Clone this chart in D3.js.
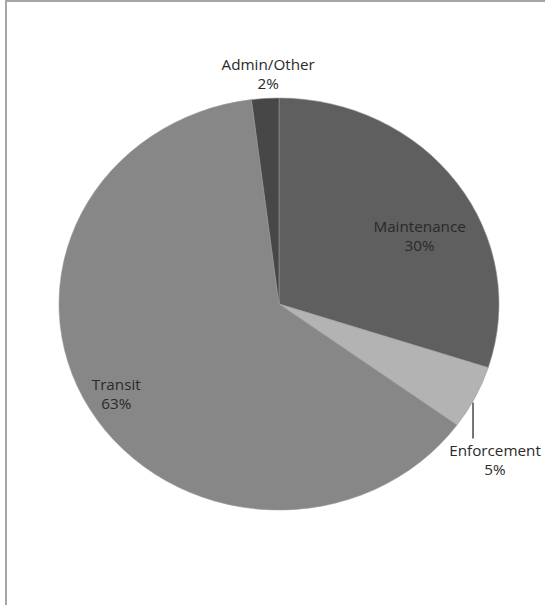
<!DOCTYPE html>
<html>
<head>
<meta charset="utf-8">
<script src="https://cdn.jsdelivr.net/npm/d3@7"></script>
<style>
  html, body { margin: 0; padding: 0; background: #fff; }
  svg { display: block; }
  text { font-family: "Open Sans", "DejaVu Sans", sans-serif; fill: #2a2a2a; }
</style>
</head>
<body>
<svg id="chart" width="545" height="605"></svg>
<script>
// Budget share by category (percent)
const categories = ["Maintenance", "Enforcement", "Transit", "Admin/Other"];
const shares = [30, 5, 63, 2];
const fills = ["#5f5f5f", "#b3b3b3", "#878787", "#474747"];

const W = 545, H = 605;
const cx = 279, cy = 304;
const rx = 220, ry = 206;

const svg = d3.select("#chart");

// frame edges
svg.append("line").attr("x1", 6).attr("x2", 6).attr("y1", 0).attr("y2", H)
  .attr("stroke", "#a6a6a6").attr("stroke-width", 2);
svg.append("line").attr("x1", 5).attr("x2", W).attr("y1", 1).attr("y2", 1)
  .attr("stroke", "#a6a6a6").attr("stroke-width", 2);

const pie = d3.pie().sort(null).value(d => d)(shares);
const arc = d3.arc().innerRadius(0).outerRadius(rx);

// pie is drawn as a circle and squeezed vertically
const g = svg.append("g")
  .attr("transform", `translate(${cx},${cy}) scale(1,${ry / rx})`);

g.selectAll("path").data(pie).join("path")
  .attr("d", arc)
  .attr("fill", (d, i) => fills[i])
  .attr("stroke", "#9a9a9a")
  .attr("stroke-width", 0.6);

// label anchors: angle offset (radians), radial fraction and vertical nudge per slice
const labelPlace = [
  { da: 0.15, k: 0.72, dy: -4 },
  { da: 0.0, k: 0, dy: 0 },
  { da: -0.02, k: 0.87, dy: -8 },
  { da: 0.0, k: 0, dy: 0 }
];

function polar(angle, r) {
  return [cx + Math.sin(angle) * r, cy - Math.cos(angle) * r * (ry / rx)];
}

const labels = svg.append("g").attr("font-size", 14);

pie.forEach((d, i) => {
  const mid = (d.startAngle + d.endAngle) / 2;
  let x, y;
  if (i === 1) {
    // outside label with a vertical leader
    const [ex, ey] = polar(mid, rx);
    const lx = ex - 2;
    svg.append("line").attr("x1", lx).attr("x2", lx)
      .attr("y1", ey + 5).attr("y2", ey + 41)
      .attr("stroke", "#2a2a2a").attr("stroke-width", 1.3);
    x = lx + 22; y = ey + 58;
  } else if (i === 3) {
    const [ex, ey] = polar(mid, rx);
    x = ex + 3; y = ey - 28;
  } else {
    const [px, py] = polar(mid + labelPlace[i].da, rx * labelPlace[i].k);
    x = px; y = py + labelPlace[i].dy;
  }
  const t = labels.append("text").attr("text-anchor", "middle")
    .attr("transform", `translate(${x},${y}) scale(1.09,1)`);
  t.append("tspan").attr("x", 0).attr("y", 0).text(categories[i]);
  t.append("tspan").attr("x", 0).attr("y", 19).text(shares[i] + "%");
});
</script>
</body>
</html>
